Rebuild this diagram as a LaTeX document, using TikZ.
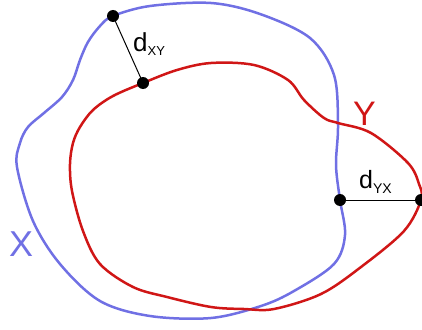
\documentclass[tikz,border=0pt]{standalone}
\usepackage{fontspec}
\setmainfont{Liberation Sans}
\definecolor{xblue}{RGB}{112,112,228}
\definecolor{yred}{RGB}{208,22,22}
\begin{document}
\begin{tikzpicture}[x=1pt,y=-1pt,
  dot/.style={circle,fill=black,inner sep=0pt,minimum size=12pt},
  curveX/.style={draw=xblue,line width=2.5pt},
  curveY/.style={draw=yred,line width=2.5pt},
  lbl/.style={inner sep=0pt,anchor=base west}]
\useasboundingbox (0,0) rectangle (422,329);
\draw[curveX] plot[smooth cycle,tension=0.55] coordinates {
 (113,16) (150,6) (211,3) (260,14) (310,38) (334,75) (338,125) (336,165)
 (340,200) (345,235) (334,264) (294,291) (261,306) (211,318) (150,316)
 (100,301) (60,264) (33,221) (17,167) (20,143) (28,127) (44,113) (62,97)
 (73,80) (80,60) (88,42) (100,26)};
\draw[curveY] plot[smooth cycle,tension=0.55] coordinates {
 (143,83) (177,70) (211,63) (254,65) (288,80) (304,100) (324,118) (338,123)
 (371,133) (408,163) (419,184) (421,200) (404,231) (361,267) (321,294)
 (274,309) (244,309) (211,307) (167,297) (133,287) (100,264) (83,231)
 (72,191) (70,164) (73,143) (80,127) (93,110) (113,96)};
\node[dot] (p1) at (113,16) {};
\node[dot] (p2) at (143,83) {};
\node[dot] (q1) at (340,200) {};
\node[dot] (q2) at (421,200) {};
\draw[line width=1pt] (p1.center) -- (p2.center);
\draw[line width=1pt] (q1.center) -- (q2.center);
\node[lbl] (dxy) at (133,52) {\fontsize{26}{26}\selectfont d\raisebox{-4pt}{\fontsize{13}{13}\selectfont XY}};
\node[lbl] (dyx) at (359,188) {\fontsize{25}{25}\selectfont d\raisebox{-5pt}{\fontsize{14}{14}\selectfont YX}};
\node[lbl,text=yred] (ylab) at (353,125) {\fontsize{34}{34}\selectfont Y};
\node[lbl,text=xblue] (xlab) at (9,256) {\fontsize{36}{36}\selectfont X};
\end{tikzpicture}
\end{document}
